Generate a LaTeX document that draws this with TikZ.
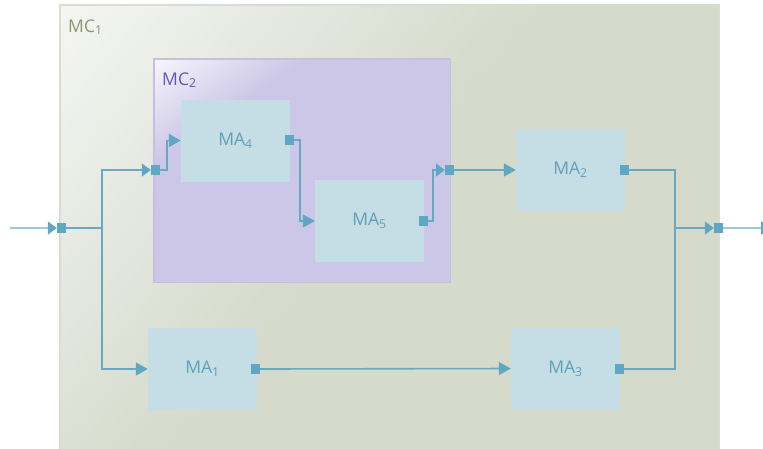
\documentclass[tikz,border=0pt]{standalone}
\usepackage{fontspec}
\setmainfont{Open Sans}
\usetikzlibrary{arrows.meta}
\definecolor{mconebase}{HTML}{D5DACB}
\definecolor{mconelight}{HTML}{F5F6F4}
\definecolor{mconeborder}{HTML}{D9DDD1}
\definecolor{mconetext}{HTML}{889A68}
\definecolor{mctwobase}{HTML}{CDC7E7}
\definecolor{mctwolight}{HTML}{F8F7FC}
\definecolor{mctwoborder}{HTML}{C7BFE2}
\definecolor{mctwotext}{HTML}{6757AC}
\definecolor{mafill}{HTML}{C5DDE4}
\definecolor{matext}{HTML}{5FA0BA}
\definecolor{portc}{HTML}{5FA7C2}
\definecolor{linec}{HTML}{66A9C3}
\definecolor{linelight}{HTML}{9DC9D7}
\tikzset{
  lbl/.style={font=\fontsize{17.5}{20}\selectfont, inner sep=0pt},
  mabox/.style={lbl, fill=mafill, minimum width=109pt, minimum height=82pt, text=matext},
  port/.style={fill=portc, minimum size=9pt, inner sep=0pt},
  conn/.style={draw=linec, line width=1.6pt},
  toma/.style={conn, -{Triangle[length=12pt,width=13pt,color=portc]}},
  toport/.style={conn, -{Triangle[length=9pt,width=13pt,color=portc]}},
}
\begin{document}
\begin{tikzpicture}[x=1pt,y=-1pt]
\useasboundingbox (0,0) rectangle (763,448);
% MC1 container
\node[fill=mconebase, minimum width=659pt, minimum height=470pt, anchor=north west, inner sep=0pt] (mc1) at (60,5) {};
\begin{scope}
  \clip (mc1.north west) rectangle (mc1.south east);
  \begin{scope}[transform canvas={rotate around={-40:(60,5)}}]
    \shade[left color=mconelight, right color=mconebase] (55,-900) rectangle (430,900);
  \end{scope}
\end{scope}
\draw[mconeborder, line width=2pt] (mc1.north west) rectangle (mc1.south east);
\node[lbl, anchor=base west, text=mconetext] (mc1label) at (68,32) {MC\textsubscript{1}};
% MC2 container
\node[fill=mctwobase, minimum width=296pt, minimum height=223pt, anchor=north west, inner sep=0pt] (mc2) at (154,59) {};
\begin{scope}
  \clip (mc2.north west) rectangle (mc2.south east);
  \begin{scope}[transform canvas={rotate around={-55:(154,59)}}]
    \shade[left color=mctwolight, right color=mctwobase] (150,-900) rectangle (240,900);
  \end{scope}
\end{scope}
\draw[mctwoborder, line width=1.5pt] (mc2.north west) rectangle (mc2.south east);
\node[lbl, anchor=base west, text=mctwotext] (mc2label) at (162,85) {MC\textsubscript{2}};
% MA boxes
\node[mabox] (ma4) at (235.5,140.5) {MA\textsubscript{4}};
\node[mabox] (ma5) at (369.5,221) {MA\textsubscript{5}};
\node[mabox] (ma2) at (570.5,170) {MA\textsubscript{2}};
\node[mabox] (ma1) at (202.5,369) {MA\textsubscript{1}};
\node[mabox] (ma3) at (565.5,368.5) {MA\textsubscript{3}};
% ports
\node[port] (pin) at (61.5,228) {};
\node[port] (pout) at (718.5,228) {};
\node[port] (p2in) at (155.5,170) {};
\node[port] (p2out) at (449.5,170) {};
\node[port] (p4) at (289.5,140) {};
\node[port] (p5) at (423.5,221) {};
\node[port] (p2) at (624.5,170) {};
\node[port] (p1) at (255.5,369) {};
\node[port] (p3) at (619.5,369) {};
\coordinate (start) at (10,228);
\coordinate (finish) at (773,228);
\coordinate (j1) at (102,228);
\coordinate (j3) at (675,228);
% connectors
\draw[toport, draw=linelight] (start) -- (pin.west);
\draw[toport] (pin.east) -- (j1) |- (p2in.west);
\draw[toma] (j1) |- (ma1.west);
\draw[toma] (p2in.east) -- ++(7,0) |- (ma4.west);
\draw[toma] (p4.east) -- ++(5.5,0) |- (ma5.west);
\draw[toport] (p5.east) -- ++(4.5,0) |- (p2out.west);
\draw[toma] (p2out.east) -- (ma2.west);
\draw[toport] (p2.east) -| (j3) -- (pout.west);
\draw[conn] (p3.east) -| (j3);
\draw[toma] (p1.east) -- (ma3.west);
\draw[toma, draw=linelight] (pout.east) -- (finish);
% ports on top
\foreach \p in {pin,pout,p2in,p2out,p4,p5,p2,p1,p3} \fill[portc] (\p.north west) rectangle (\p.south east);
\end{tikzpicture}
\end{document}
